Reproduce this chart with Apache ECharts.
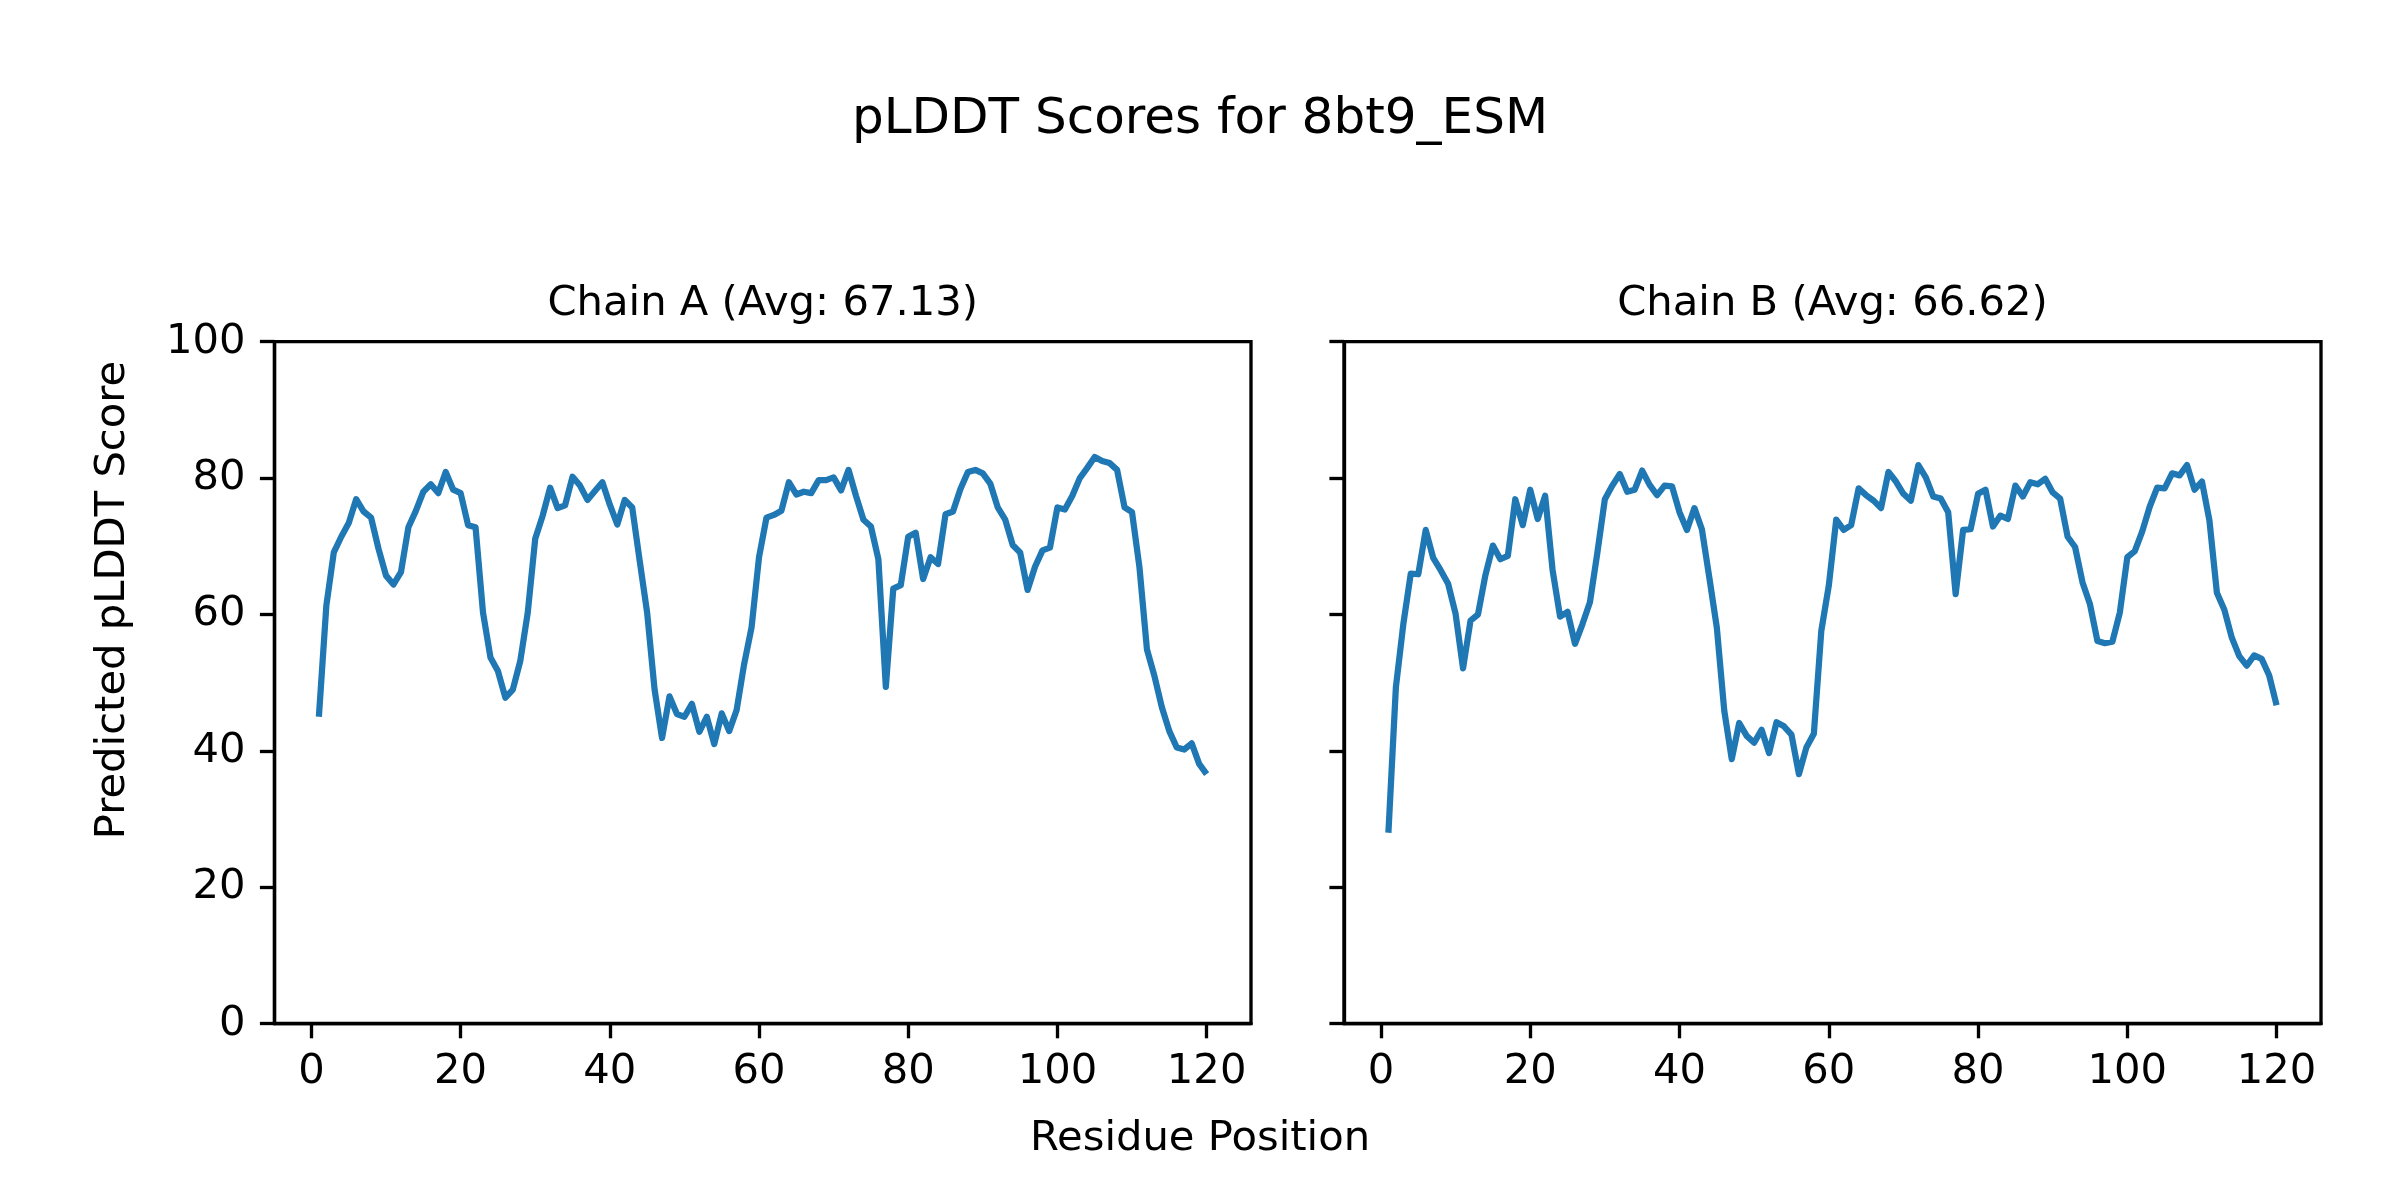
<!DOCTYPE html>
<html>
<head>
<meta charset="utf-8">
<script src="https://cdn.jsdelivr.net/npm/echarts@6/dist/echarts.min.js"></script>
<style>
html,body{margin:0;padding:0;background:#fff;}
#chart{width:2400px;height:1200px;}
</style>
</head>
<body>
<div id="chart"></div>
<script>
const figTitle = 'pLDDT Scores for 8bt9_ESM';
const titleA = 'Chain A (Avg: 67.13)';
const titleB = 'Chain B (Avg: 66.62)';
const xLabel = 'Residue Position';
const yLabel = 'Predicted pLDDT Score';
const xTicks = [0, 20, 40, 60, 80, 100, 120];
const yTicks = [0, 20, 40, 60, 80, 100];

const chainA = [
  45.0, 61.3, 69.1, 71.4, 73.4, 76.9, 75.1, 74.2, 69.6, 65.7,
  64.4, 66.2, 72.8, 75.2, 78.0, 79.1, 77.8, 80.9, 78.3, 77.8,
  73.1, 72.8, 60.3, 53.7, 51.7, 47.8, 49.0, 53.2, 60.3, 71.1,
  74.5, 78.6, 75.6, 76.0, 80.2, 78.9, 76.8, 78.1, 79.4, 76.1,
  73.2, 76.8, 75.7, 67.9, 60.3, 49.0, 41.9, 48.0, 45.4, 45.0,
  46.9, 42.8, 45.0, 41.0, 45.5, 42.9, 46.0, 52.7, 58.1, 68.4,
  74.2, 74.6, 75.2, 79.4, 77.6, 78.0, 77.8, 79.7, 79.7, 80.1,
  78.2, 81.2, 77.4, 73.9, 72.9, 68.1, 49.4, 63.8, 64.3, 71.4,
  72.0, 65.2, 68.4, 67.4, 74.7, 75.1, 78.4, 80.9, 81.2, 80.7,
  79.2, 75.7, 73.9, 70.2, 69.1, 63.6, 67.0, 69.4, 69.8, 75.7,
  75.4, 77.4, 80.0, 81.5, 83.1, 82.5, 82.2, 81.2, 75.7, 75.0,
  66.9, 54.9, 51.0, 46.4, 42.9, 40.5, 40.2, 41.1, 38.1, 36.6
];
const chainB = [
  28.0, 49.3, 58.6, 66.0, 65.9, 72.4, 68.3, 66.5, 64.5, 60.1,
  52.1, 59.1, 60.0, 65.8, 70.1, 68.1, 68.6, 76.9, 73.1, 78.3,
  74.0, 77.4, 66.5, 59.7, 60.4, 55.7, 58.6, 61.8, 69.1, 76.9,
  78.9, 80.6, 78.0, 78.3, 81.1, 79.0, 77.5, 78.9, 78.8, 75.0,
  72.4, 75.6, 72.5, 65.4, 58.1, 45.9, 38.8, 44.1, 42.2, 41.2,
  43.1, 39.7, 44.2, 43.6, 42.4, 36.6, 40.5, 42.5, 57.6, 64.2,
  73.9, 72.4, 73.1, 78.5, 77.5, 76.7, 75.6, 80.9, 79.5, 77.7,
  76.7, 81.9, 80.1, 77.3, 77.0, 75.0, 63.0, 72.4, 72.5, 77.7,
  78.3, 72.9, 74.5, 74.0, 78.9, 77.3, 79.4, 79.1, 79.9, 77.9,
  77.0, 71.4, 69.9, 64.7, 61.5, 56.1, 55.8, 56.0, 60.3, 68.4,
  69.3, 72.2, 75.8, 78.6, 78.5, 80.7, 80.4, 81.9, 78.3, 79.5,
  73.8, 63.2, 60.7, 56.6, 53.9, 52.5, 54.0, 53.5, 51.1, 46.7
];

const FONT = 'DejaVu Sans';
const LINE_COLOR = '#1f77b4';
const SPINE = 3.33;
const TICKLEN = 14.6;
const LABEL_FS = 41.7;

function pairs(arr) { return arr.map((v, i) => [i + 1, v]); }

function xAxisFor(gridIndex) {
  return {
    type: 'value', gridIndex: gridIndex,
    min: -4.95, max: 125.95,
    splitLine: { show: false },
    axisLine: { show: true, onZero: false, lineStyle: { color: '#000', width: SPINE } },
    axisTick: { show: true, customValues: xTicks, length: TICKLEN, lineStyle: { color: '#000', width: SPINE } },
    axisLabel: { show: true, customValues: xTicks, margin: 27, color: '#000', fontFamily: FONT, fontSize: LABEL_FS },
    splitArea: { show: false }
  };
}
function yAxisFor(gridIndex, showLabels) {
  return {
    type: 'value', gridIndex: gridIndex,
    min: 0, max: 100, interval: 20,
    splitLine: { show: false },
    axisLine: { show: true, onZero: false, lineStyle: { color: '#000', width: SPINE } },
    axisTick: { show: true, customValues: yTicks, length: TICKLEN, lineStyle: { color: '#000', width: SPINE } },
    axisLabel: { show: showLabels, customValues: yTicks, margin: 29, color: '#000', fontFamily: FONT, fontSize: LABEL_FS }
  };
}

const chart = echarts.init(document.getElementById('chart'), null, { renderer: 'canvas' });
chart.setOption({
  backgroundColor: '#ffffff',
  animation: false,
  grid: [
    { left: 274.5, top: 341.7, width: 976.5, height: 682, show: true, borderColor: '#000', borderWidth: SPINE, backgroundColor: 'transparent' },
    { left: 1344, top: 341.7, width: 977, height: 682, show: true, borderColor: '#000', borderWidth: SPINE, backgroundColor: 'transparent' }
  ],
  xAxis: [xAxisFor(0), xAxisFor(1)],
  yAxis: [yAxisFor(0, true), yAxisFor(1, false)],
  series: [
    { type: 'line', xAxisIndex: 0, yAxisIndex: 0, data: pairs(chainA), showSymbol: false, symbol: 'none',
      lineStyle: { color: LINE_COLOR, width: 6.25, join: 'round' }, itemStyle: { color: LINE_COLOR } },
    { type: 'line', xAxisIndex: 1, yAxisIndex: 1, data: pairs(chainB), showSymbol: false, symbol: 'none',
      lineStyle: { color: LINE_COLOR, width: 6.25, join: 'round' }, itemStyle: { color: LINE_COLOR } }
  ],
  graphic: [
    { type: 'text', x: 1200, y: 120, style: { text: figTitle, fill: '#000', font: '50px "DejaVu Sans"', textAlign: 'center', textVerticalAlign: 'middle' } },
    { type: 'text', x: 762.75, y: 304.5, style: { text: titleA, fill: '#000', font: '41.7px "DejaVu Sans"', textAlign: 'center', textVerticalAlign: 'middle' } },
    { type: 'text', x: 1832.5, y: 304.5, style: { text: titleB, fill: '#000', font: '41.7px "DejaVu Sans"', textAlign: 'center', textVerticalAlign: 'middle' } },
    { type: 'text', x: 1200, y: 1139.5, style: { text: xLabel, fill: '#000', font: '41.7px "DejaVu Sans"', textAlign: 'center', textVerticalAlign: 'middle' } },
    { type: 'text', x: 113, y: 600, rotation: Math.PI / 2, style: { text: yLabel, fill: '#000', font: '41.7px "DejaVu Sans"', textAlign: 'center', textVerticalAlign: 'middle' } }
  ]
});
</script>
</body>
</html>
